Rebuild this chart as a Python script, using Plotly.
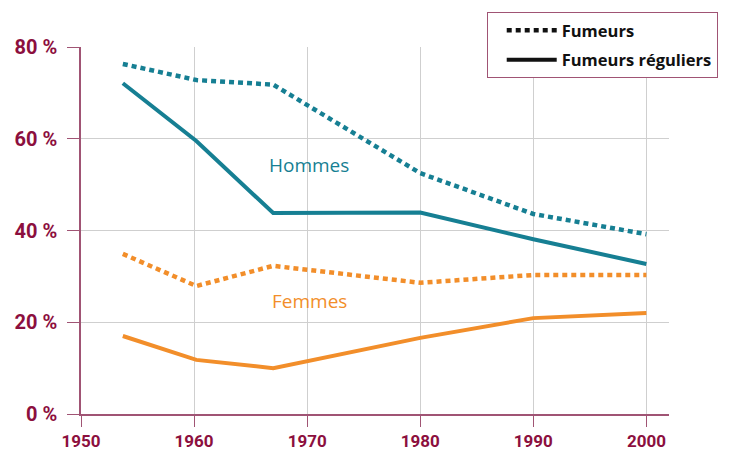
import plotly.graph_objects as go

years = [1953.7, 1960.2, 1967, 1980, 1990, 2000]
hommes_fumeurs = [76.3, 72.8, 71.8, 52.5, 43.6, 39.2]
hommes_reguliers = [72.1, 59.5, 43.8, 43.9, 38.1, 32.7]
femmes_fumeurs = [34.9, 27.9, 32.3, 28.6, 30.3, 30.3]
femmes_reguliers = [17.0, 11.8, 10.0, 16.6, 20.9, 22.0]

x_ticks = [1950, 1960, 1970, 1980, 1990, 2000]
y_ticks = [0, 20, 40, 60, 80]
y_tick_labels = ["0 %", "20 %", "40 %", "60 %", "80 %"]

TEAL = "#167f93"
ORANGE = "#f28e2a"
CRIMSON = "#8c0f3e"
AXIS = "#a05474"
GRID = "#cfcfcf"
DOT = "5px,4px"

fig = go.Figure()
fig.add_trace(go.Scatter(x=years, y=hommes_fumeurs, mode="lines",
                         line=dict(color=TEAL, width=4.5, dash=DOT), showlegend=False))
fig.add_trace(go.Scatter(x=years, y=hommes_reguliers, mode="lines",
                         line=dict(color=TEAL, width=4), showlegend=False))
fig.add_trace(go.Scatter(x=years, y=femmes_fumeurs, mode="lines",
                         line=dict(color=ORANGE, width=4.5, dash=DOT), showlegend=False))
fig.add_trace(go.Scatter(x=years, y=femmes_reguliers, mode="lines",
                         line=dict(color=ORANGE, width=4), showlegend=False))
# legend entries
fig.add_trace(go.Scatter(x=[None], y=[None], mode="lines", name="Fumeurs", legendgroup="a",
                         line=dict(color="#111111", width=4.5, dash=DOT)))
fig.add_trace(go.Scatter(x=[None], y=[None], mode="lines", name="Fumeurs réguliers",
                         legendgroup="b", line=dict(color="#111111", width=4)))

fig.add_annotation(x=1970.2, y=54.3, text="Hommes", showarrow=False,
                   font=dict(family="Open Sans", size=19, color=TEAL))
fig.add_annotation(x=1970.2, y=24.6, text="Femmes", showarrow=False,
                   font=dict(family="Open Sans", size=19, color=ORANGE))

fig.update_layout(
    width=729, height=442,
    margin=dict(l=73, r=68, t=39, b=36, autoexpand=False),
    paper_bgcolor="white", plot_bgcolor="white",
    legend=dict(x=0.69, y=1.095, xanchor="left", yanchor="top",
                bordercolor=AXIS, borderwidth=1, bgcolor="white",
                font=dict(family="Open Sans", size=16.5, color="#111111", weight="bold"),
                tracegroupgap=5, itemwidth=50, indentation=14),
    xaxis=dict(range=[1950, 2002], tickvals=x_ticks, showgrid=True, gridcolor=GRID,
               gridwidth=1, zeroline=False, showline=True, linecolor=AXIS, linewidth=1.5,
               ticks="outside", ticklen=11, tickcolor=AXIS, tickwidth=1, automargin=False,
               ticklabelstandoff=0,
               tickfont=dict(family="Roboto", size=17, color=CRIMSON, weight="bold")),
    yaxis=dict(range=[0, 80], tickvals=y_ticks, ticktext=y_tick_labels, showgrid=True,
               gridcolor=GRID, gridwidth=1, zeroline=False, showline=True, linecolor=AXIS,
               linewidth=1.5, ticks="outside", ticklen=12, tickcolor=AXIS, tickwidth=1,
               ticklabelstandoff=6, automargin=False,
               tickfont=dict(family="Roboto", size=20, color=CRIMSON, weight="bold")),
)

fig.write_html("out.html")
